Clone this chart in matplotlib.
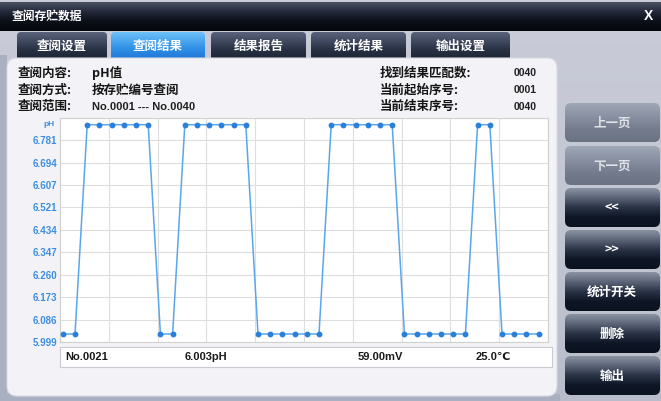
import numpy as np
import matplotlib
matplotlib.use('Agg')
import matplotlib.pyplot as plt
from matplotlib.patches import FancyBboxPatch, Rectangle
from matplotlib.colors import LinearSegmentedColormap

plt.rcParams['font.family'] = ['Noto Sans CJK SC', 'DejaVu Sans']

# ---------------- data ----------------
sample_no = list(range(1, 41))
ph_values = [6.030, 6.030, 6.842, 6.842, 6.842, 6.842, 6.842, 6.842,
             6.030, 6.030, 6.842, 6.842, 6.842, 6.842, 6.842, 6.842,
             6.030, 6.030, 6.030, 6.030, 6.030, 6.030,
             6.842, 6.842, 6.842, 6.842, 6.842, 6.842,
             6.030, 6.030, 6.030, 6.030, 6.030, 6.030,
             6.842, 6.842,
             6.030, 6.030, 6.030, 6.030]
y_ticks = [5.999, 6.086, 6.173, 6.260, 6.347, 6.434, 6.521, 6.607, 6.694, 6.781]
y_tick_labels = ['5.999', '6.086', '6.173', '6.260', '6.347', '6.434',
                 '6.521', '6.607', '6.694', '6.781']
y_top = 6.868
y_unit = 'pH'
title_text = '查阅存贮数据'
tab_labels = ['查阅设置', '查阅结果', '结果报告', '统计结果', '输出设置']
button_labels = ['上一页', '下一页', '<<', '>>', '统计开关', '删除', '输出']
info_left_labels = ['查阅内容:', '查阅方式:', '查阅范围:']
info_left_values = ['pH值', '按存贮编号查阅', 'No.0001 --- No.0040']
info_right_labels = ['找到结果匹配数:', '当前起始序号:', '当前结束序号:']
info_right_values = ['0040', '0001', '0040']
status_texts = ['No.0021', '6.003pH', '59.00mV', '25.0℃']

W, H = 661, 401
fig = plt.figure(figsize=(W / 100, H / 100), dpi=100)

bg = fig.add_axes([0, 0, 1, 1])
bg.set_axis_off()


def grad_box(ax, x0, y0, w, h, stops, r=4, z=1, ec='none', lw=0):
    cmap = LinearSegmentedColormap.from_list('g', stops)
    g = np.linspace(0, 1, 80).reshape(-1, 1)
    im = ax.imshow(g, cmap=cmap, extent=(x0, x0 + w, y0 + h, y0), aspect='auto',
                   origin='upper', zorder=z, interpolation='bilinear')
    p = FancyBboxPatch((x0 + r, y0 + r), w - 2 * r, h - 2 * r,
                       boxstyle=f'round,pad={r}', transform=ax.transData,
                       fc='none', ec=ec, lw=lw, zorder=z + 0.1)
    ax.add_patch(p)
    im.set_clip_path(p)
    return p


# outer frame
grad_box(bg, 0, 0, W, H, ['#c9ccd8', '#c3c7d3', '#b9bdcb'], r=0.01, z=0)
bg.add_patch(Rectangle((0, 55), 7, 346, fc='#a9b0c2', ec='none', zorder=0.5))
bg.add_patch(Rectangle((0, 394), 560, 7, fc='#a9b0c2', ec='none', zorder=0.5))

# title bar
grad_box(bg, 0, 2, W, 29, ['#4c5262', '#22283a', '#0c1018', '#05080e'], r=0.01, z=1)
bg.text(12, 16, title_text, color='white', fontsize=8.5, fontweight='bold',
        va='center', ha='left', zorder=5)
bg.text(648, 16, 'X', color='white', fontsize=10, fontweight='bold',
        va='center', ha='center', family=['Liberation Sans'], zorder=5)

# tabs
tab_x = [17, 111, 211, 311, 411]
tab_w = [90, 94, 95, 95, 99]
for i, (tx, tw, lab) in enumerate(zip(tab_x, tab_w, tab_labels)):
    if i == 1:
        stops = ['#6cc0f8', '#2f8fe6', '#1565c8']
    else:
        stops = ['#59627a', '#2a3346', '#121a28']
    grad_box(bg, tx, 32, tw, 34, stops, r=4, z=2)
    bg.text(tx + tw / 2, 46, lab, color='white', fontsize=9, fontweight='bold',
            va='center', ha='center', zorder=5)

# main panel
bg.add_patch(FancyBboxPatch((17, 68), 530, 318, boxstyle='round,pad=10',
                            fc='#f3f3f7', ec='#d8dae2', lw=0.8, zorder=3))

# info text
rows_y = [73, 90, 106.5]
for y, lab, val in zip(rows_y, info_left_labels, info_left_values):
    bg.text(18, y, lab, fontsize=9, fontweight='bold', color='#151515',
            va='center', ha='left', zorder=5)
    if val.startswith('No'):
        bg.text(92, y, val, fontsize=8, fontweight='bold', color='#202020',
                va='center', ha='left', family=['Liberation Sans'], zorder=5)
    else:
        bg.text(92, y, val, fontsize=9, fontweight='bold', color='#151515',
                va='center', ha='left', zorder=5)
for y, lab, val in zip(rows_y, info_right_labels, info_right_values):
    bg.text(380, y, lab, fontsize=9, fontweight='bold', color='#151515',
            va='center', ha='left', zorder=5)
    bg.text(514, y, val, fontsize=7.5, fontweight='bold', color='#202020',
            va='center', ha='left', family=['Liberation Sans'], zorder=5)

# y unit label
bg.text(55, 124, y_unit, fontsize=6, fontweight='bold', color='#3a8de0',
        va='center', ha='right', family=['Liberation Sans'], zorder=5)

# status box
bg.add_patch(Rectangle((60, 347), 492, 20, fc='white', ec='#c9cbd2', lw=0.8, zorder=4))
status_x = [65, 185, 358, 476]
for sx, st in zip(status_x, status_texts):
    bg.text(sx, 357.5, st, fontsize=8, fontweight='bold', color='#1a1a1a',
            va='center', ha='left', family=['Liberation Sans', 'DejaVu Sans'], zorder=5)

# buttons
btn_y = [103, 146, 188, 230, 272, 314, 356]
for i, (by, lab) in enumerate(zip(btn_y, button_labels)):
    if i < 2:
        stops = ['#a0a7b6', '#8a92a3', '#747c8d', '#6a7283']
        tc = '#dfe2e8'
    else:
        stops = ['#8a92a2', '#5c6577', '#2a3345', '#0f1727', '#0a1220']
        tc = 'white'
    grad_box(bg, 565, by, 95, 39, stops, r=6, z=2)
    bg.text(612, by + 20, lab, color=tc, fontsize=9, fontweight='bold',
            va='center', ha='center', zorder=5)

bg.set_xlim(0, W)
bg.set_ylim(H, 0)

# ---------------- chart ----------------
ax = fig.add_axes([60 / W, (H - 342) / H, (548 - 60) / W, (342 - 118) / H])
ax.set_facecolor('white')
ax.plot(sample_no, ph_values, color='#5aa6ec', lw=1.1, zorder=3)
ax.plot(sample_no, ph_values, ls='none', marker='o', ms=3.2, color='#2a7fd8', zorder=4)
ax.set_xlim(0.77, 40.77)
ax.set_ylim(y_ticks[0], y_top)
ax.set_xticks([0.77 + 4 * k for k in range(11)])
ax.set_xticklabels([])
ax.set_yticks(y_ticks + [y_top])
ax.set_yticklabels(y_tick_labels + [''], fontsize=7, fontweight='bold',
                   color='#3a8de0', family=['Liberation Sans'])
ax.tick_params(length=0, pad=2)
ax.grid(True, color='#dedede', lw=0.8, zorder=0)
ax.set_axisbelow(True)
for s in ax.spines.values():
    s.set_color('#d0d0d0')
    s.set_linewidth(0.8)

fig.savefig('out.png', dpi=100)
